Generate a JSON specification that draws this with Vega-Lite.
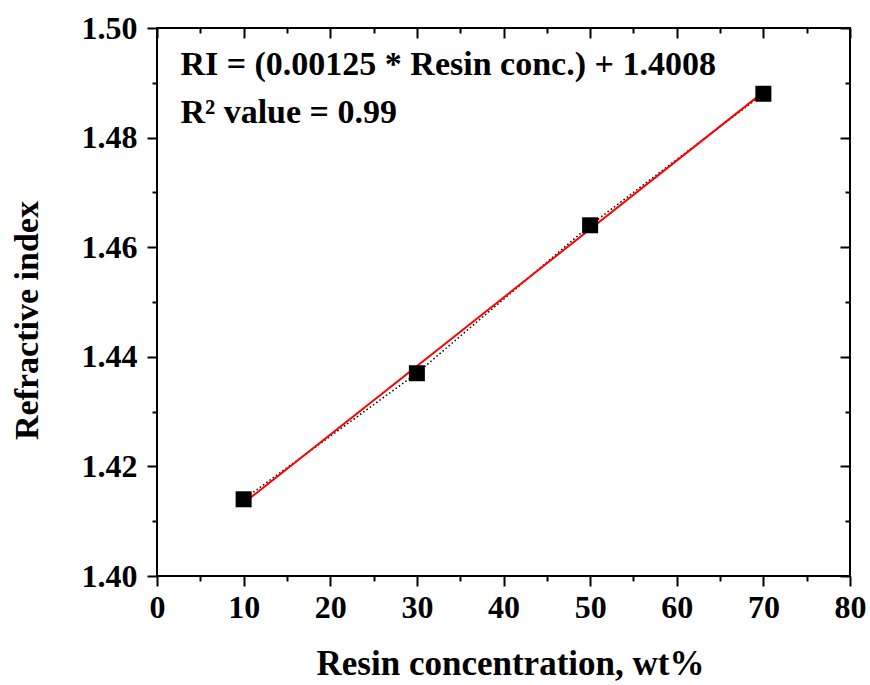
{
  "$schema": "https://vega.github.io/schema/vega-lite/v6.json",
  "width": 693,
  "height": 548,
  "autosize": "none",
  "padding": {"left": 157, "top": 28, "right": 20, "bottom": 109},
  "background": "white",
  "config": {
    "font": "Liberation Serif",
    "view": {"stroke": "black", "strokeWidth": 2},
    "axis": {
      "domain": false,
      "grid": false,
      "tickColor": "black",
      "tickWidth": 2,
      "labelColor": "black",
      "labelFont": "Liberation Serif",
      "labelFontWeight": "bold",
      "labelFontSize": 32,
      "labelFlush": false,
      "labelOverlap": false,
      "titleFont": "Liberation Serif",
      "titleFontWeight": "bold",
      "titleFontSize": 35,
      "titleColor": "black"
    }
  },
  "datasets": {
    "pts": [
      {"conc": 10, "ri": 1.414},
      {"conc": 30, "ri": 1.437},
      {"conc": 50, "ri": 1.464},
      {"conc": 70, "ri": 1.488}
    ],
    "fit": [
      {"conc": 10, "ri": 1.4133},
      {"conc": 70, "ri": 1.4883}
    ],
    "notes": [
      {"conc": 2.7, "ri": 1.4914, "label": "RI = (0.00125 * Resin conc.) + 1.4008"},
      {"conc": 2.7, "ri": 1.4826, "label": "R² value = 0.99"}
    ]
  },
  "layer": [
    {
      "data": {"name": "pts"},
      "mark": {"type": "line", "color": "black", "strokeWidth": 1.5, "strokeDash": [1.5, 2.5]},
      "encoding": {
        "x": {
          "field": "conc", "type": "quantitative",
          "scale": {"domain": [0, 80], "nice": false, "zero": false},
          "axis": {
            "orient": "bottom",
            "title": "Resin concentration, wt%",
            "titlePadding": 23,
            "titleX": 353,
            "values": [0, 5, 10, 15, 20, 25, 30, 35, 40, 45, 50, 55, 60, 65, 70, 75, 80],
            "labelExpr": "datum.value % 10 === 0 ? datum.label : ''",
            "tickSize": {"condition": {"test": "datum.value % 10 === 0", "value": 10}, "value": 5},
            "labelPadding": 6
          }
        },
        "y": {
          "field": "ri", "type": "quantitative",
          "scale": {"domain": [1.40, 1.50], "nice": false, "zero": false},
          "axis": {
            "orient": "left",
            "title": "Refractive index",
            "titleFontSize": 34,
            "titlePadding": 37,
            "titleY": 292,
            "values": [1.40, 1.41, 1.42, 1.43, 1.44, 1.45, 1.46, 1.47, 1.48, 1.49, 1.50],
            "format": ".2f",
            "labelExpr": "round(datum.value * 100) % 2 === 0 ? datum.label : ''",
            "tickSize": {"condition": {"test": "round(datum.value * 100) % 2 === 0", "value": 10}, "value": 5},
            "labelPadding": 10
          }
        }
      }
    },
    {
      "data": {"name": "fit"},
      "mark": {"type": "line", "color": "#ff0000", "strokeWidth": 2},
      "encoding": {
        "x": {"field": "conc", "type": "quantitative", "scale": {"domain": [0, 80], "nice": false, "zero": false}, "axis": null},
        "y": {"field": "ri", "type": "quantitative", "scale": {"domain": [1.40, 1.50], "nice": false, "zero": false}, "axis": null}
      }
    },
    {
      "data": {"name": "pts"},
      "mark": {"type": "square", "color": "black", "filled": true, "opacity": 1, "size": 256},
      "encoding": {
        "x": {
          "field": "conc", "type": "quantitative",
          "scale": {"domain": [0, 80], "nice": false, "zero": false},
          "axis": {
            "orient": "top",
            "title": null,
            "values": [0, 5, 10, 15, 20, 25, 30, 35, 40, 45, 50, 55, 60, 65, 70, 75, 80],
            "labels": false,
            "tickSize": {"condition": {"test": "datum.value % 10 === 0", "value": -10}, "value": -5}
          }
        },
        "y": {
          "field": "ri", "type": "quantitative",
          "scale": {"domain": [1.40, 1.50], "nice": false, "zero": false},
          "axis": {
            "orient": "right",
            "title": null,
            "values": [1.40, 1.41, 1.42, 1.43, 1.44, 1.45, 1.46, 1.47, 1.48, 1.49, 1.50],
            "labels": false,
            "tickSize": {"condition": {"test": "round(datum.value * 100) % 2 === 0", "value": -10}, "value": -5}
          }
        }
      }
    },
    {
      "data": {"name": "notes"},
      "mark": {"type": "text", "align": "left", "baseline": "alphabetic", "font": "Liberation Serif", "fontWeight": "bold", "fontSize": 34, "color": "black"},
      "encoding": {
        "x": {"field": "conc", "type": "quantitative", "scale": {"domain": [0, 80], "nice": false, "zero": false}, "axis": null},
        "y": {"field": "ri", "type": "quantitative", "scale": {"domain": [1.40, 1.50], "nice": false, "zero": false}, "axis": null},
        "text": {"field": "label"}
      }
    }
  ],
  "resolve": {"axis": {"x": "independent", "y": "independent"}}
}
